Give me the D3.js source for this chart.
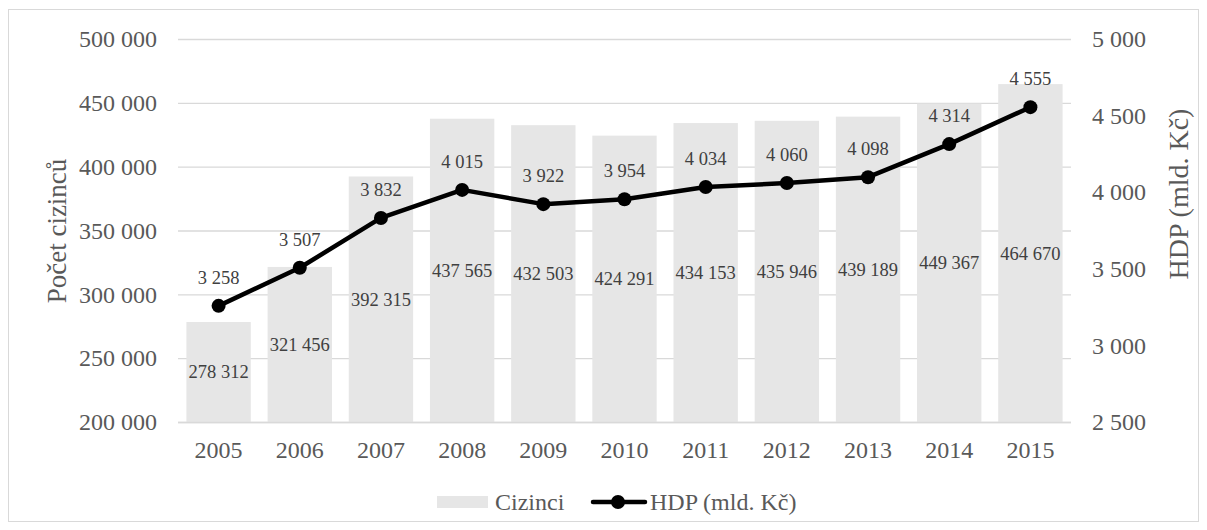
<!DOCTYPE html>
<html><head><meta charset="utf-8">
<script src="https://cdn.jsdelivr.net/npm/d3@7"></script>
<style>
body{margin:0;background:#fff}
svg{display:block}
</style>
</head><body>
<svg id="c" width="1207" height="530"></svg>
<script>
const years = ["2005","2006","2007","2008","2009","2010","2011","2012","2013","2014","2015"];
const cizinci = [278312,321456,392315,437565,432503,424291,434153,435946,439189,449367,464670];
const hdp = [3258,3507,3832,4015,3922,3954,4034,4060,4098,4314,4555];
const leftTicks = [200000,250000,300000,350000,400000,450000,500000];
const rightTicks = [2500,3000,3500,4000,4500,5000];

const fmt = v => d3.format(",")(v).replace(/,/g, " ");
const svg = d3.select("#c");
const FF = '"Liberation Serif"';
const m = {l:178, r:1071, t:39, b:422};

svg.append("rect").attr("x",8.5).attr("y",9.5).attr("width",1190).attr("height",512)
  .attr("fill","#fff").attr("stroke","#d9d9d9").attr("stroke-width",1);

const x = d3.scaleBand().domain(years).range([m.l,m.r]).paddingInner(0.207).paddingOuter(0.1035);
const yL = d3.scaleLinear().domain([200000,500000]).range([m.b,m.t]);
const yR = d3.scaleLinear().domain([2500,5000]).range([m.b,m.t]);

// gridlines
svg.append("g").selectAll("line").data(leftTicks).join("line")
  .attr("x1",m.l).attr("x2",m.r).attr("y1",d=>yL(d)+0.5).attr("y2",d=>yL(d)+0.5)
  .attr("stroke","#d9d9d9").attr("stroke-width",1.3);

// bars
svg.append("g").selectAll("rect").data(years).join("rect")
  .attr("x",(d)=>x(d)).attr("width",x.bandwidth())
  .attr("y",(d,i)=>yL(cizinci[i])).attr("height",(d,i)=>yL(200000)-yL(cizinci[i]))
  .attr("fill","#e6e6e6");

// bar labels
svg.append("g").selectAll("text").data(years).join("text")
  .attr("x",d=>x(d)+x.bandwidth()/2)
  .attr("y",(d,i)=>(yL(cizinci[i])+yL(200000))/2)
  .attr("dy","0.35em").attr("text-anchor","middle")
  .style("font-family",FF).style("font-size","18.5px").attr("fill","#404040")
  .text((d,i)=>fmt(cizinci[i]));

// axes
const axL = d3.axisLeft(yL).tickValues(leftTicks).tickFormat(fmt).tickSize(0).tickPadding(21);
const gL = svg.append("g").attr("transform",`translate(${m.l},0)`).call(axL);
const axR = d3.axisRight(yR).tickValues(rightTicks).tickFormat(fmt).tickSize(0).tickPadding(21);
const gR = svg.append("g").attr("transform",`translate(${m.r},0)`).call(axR);
const axB = d3.axisBottom(x).tickSize(0).tickPadding(19);
const gB = svg.append("g").attr("transform",`translate(0,${m.b})`).call(axB);
[gL,gR,gB].forEach(g=>{
  g.attr("font-family",null).attr("font-size",null);
  g.select(".domain").remove();
  g.selectAll("text").style("font-family",FF).style("font-size","24px").attr("fill","#595959");
});
svg.append("line").attr("x1",m.l).attr("x2",m.r).attr("y1",m.b+0.5).attr("y2",m.b+0.5)
  .attr("stroke","#d9d9d9").attr("stroke-width",1.3);

// line
const cx = d => x(d)+x.bandwidth()/2;
const line = d3.line().x((d,i)=>cx(years[i])).y(d=>yR(d));
svg.append("path").datum(hdp).attr("d",line).attr("fill","none")
  .attr("stroke","#000").attr("stroke-width",4.5).attr("stroke-linejoin","round");
svg.append("g").selectAll("circle").data(hdp).join("circle")
  .attr("cx",(d,i)=>cx(years[i])).attr("cy",d=>yR(d)).attr("r",7).attr("fill","#000");
svg.append("g").selectAll("text").data(hdp).join("text")
  .attr("x",(d,i)=>cx(years[i])).attr("y",d=>yR(d)-22)
  .attr("text-anchor","middle").style("font-family",FF).style("font-size","18.5px").attr("fill","#404040")
  .text(d=>fmt(d));

// axis titles
svg.append("text").attr("transform","translate(57,231) rotate(-90)")
  .attr("text-anchor","middle").attr("dy","0.35em").style("font-family",FF).style("font-size","27px").attr("fill","#595959")
  .text("Počet cizinců");
svg.append("text").attr("transform","translate(1178,194) rotate(-90)")
  .attr("text-anchor","middle").attr("dy","0.35em").style("font-family",FF).style("font-size","28px").attr("fill","#595959")
  .text("HDP (mld. Kč)");

// legend
const lg = svg.append("g");
lg.append("rect").attr("x",437).attr("y",496).attr("width",51).attr("height",12).attr("fill","#e6e6e6");
lg.append("text").attr("x",495).attr("y",502).attr("dy","0.35em").style("font-family",FF)
  .style("font-size","24px").attr("fill","#595959").text("Cizinci");
lg.append("line").attr("x1",593).attr("x2",645).attr("y1",502).attr("y2",502)
  .attr("stroke","#000").attr("stroke-width",4.5).attr("stroke-linecap","round");
lg.append("circle").attr("cx",618).attr("cy",502).attr("r",7).attr("fill","#000");
lg.append("text").attr("x",650).attr("y",502).attr("dy","0.35em").style("font-family",FF)
  .style("font-size","24px").attr("fill","#595959").text("HDP (mld. Kč)");
</script>
</body></html>
